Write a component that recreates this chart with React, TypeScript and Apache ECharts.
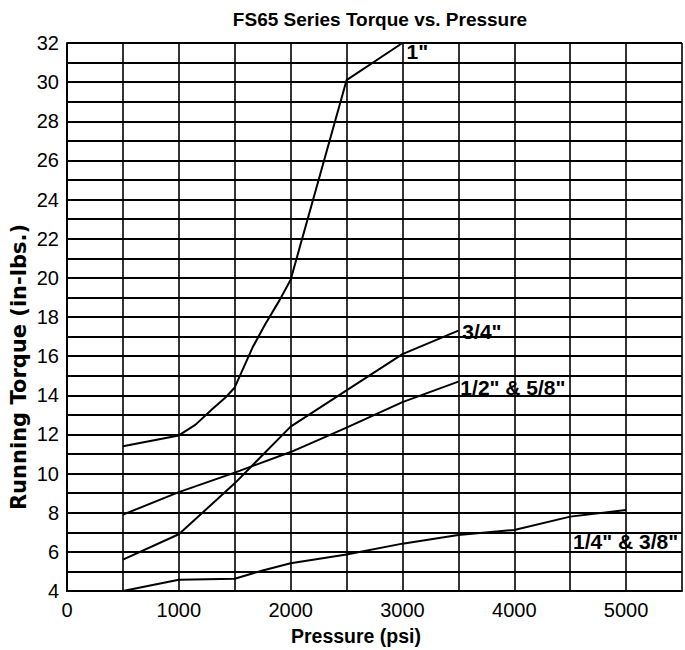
import React, { useEffect, useRef } from "react";
import * as echarts from "echarts";

const titleText = "FS65 Series Torque vs. Pressure";
const xAxisName = "Pressure (psi)";
const yAxisName = "Running Torque (in-lbs.)";

const seriesNames = ['1"', '3/4"', '1/2" & 5/8"', '1/4" & 3/8"'];

const pressure1in = [500, 1000, 1150, 1300, 1420, 1500, 1570, 1660, 1770, 1900, 2000, 2500, 3000];
const torque1in = [11.4, 11.95, 12.5, 13.3, 13.9, 14.4, 15.3, 16.45, 17.6, 18.85, 19.9, 30.1, 32];

const pressure34 = [500, 1000, 1500, 2000, 2500, 3000, 3500];
const torque34 = [5.6, 6.9, 9.5, 12.4, 14.25, 16.1, 17.3];

const pressure12 = [500, 1000, 1500, 2000, 2500, 3000, 3500];
const torque12 = [7.9, 9.05, 10.05, 11.1, 12.35, 13.65, 14.7];

const pressure14 = [500, 1000, 1500, 1750, 2000, 2500, 3000, 3500, 4000, 4500, 5000];
const torque14 = [4.0, 4.58, 4.63, 5.05, 5.42, 5.86, 6.42, 6.86, 7.12, 7.8, 8.14];

const SANS = '"Liberation Sans", Arial, sans-serif';

function zip(xs: number[], ys: number[]) {
  return xs.map((x, i) => [x, ys[i]]);
}

export default function App() {
  const ref = useRef<HTMLDivElement>(null);
  useEffect(() => {
    if (!ref.current) return;
    const chart = echarts.init(ref.current, undefined, { renderer: "svg" });
    const labelStyle = {
      fontFamily: SANS,
      fontWeight: "bold" as const,
      fontSize: 21,
      color: "#000",
    };
    const mkSeries = (name: string, xs: number[], ys: number[], offset: number[], distance: number) => ({
      type: "line",
      name,
      data: zip(xs, ys),
      showSymbol: false,
      symbol: "none",
      lineStyle: { color: "#000", width: 2 },
      endLabel: {
        show: true,
        formatter: name,
        distance,
        offset,
        ...labelStyle,
      },
      z: 5,
    });
    chart.setOption({
      animation: false,
      backgroundColor: "#fff",
      grid: { left: 67, top: 43, bottom: 59, right: -9, containLabel: false },
      xAxis: {
        type: "value",
        min: 0,
        max: 5500,
        interval: 500,
        axisLine: { show: true, lineStyle: { color: "#000", width: 2 } },
        axisTick: { show: false },
        splitLine: { show: true, lineStyle: { color: "#000", width: 1.6 } },
        axisLabel: {
          margin: 9,
          fontFamily: SANS,
          fontSize: 20,
          color: "#000",
          formatter: (v: number) => (v % 1000 === 0 && v <= 5000 ? String(v) : ""),
        },
      },
      yAxis: {
        type: "value",
        min: 4,
        max: 32,
        interval: 1,
        axisLine: { show: true, lineStyle: { color: "#000", width: 2 } },
        axisTick: { show: false },
        splitLine: { show: true, lineStyle: { color: "#000", width: 2 } },
        axisLabel: {
          margin: 8,
          fontFamily: SANS,
          fontSize: 20,
          color: "#000",
          formatter: (v: number) => (v % 2 === 0 ? String(v) : ""),
        },
      },
      graphic: [
        {
          type: "text",
          x: 380,
          y: 19,
          style: {
            text: titleText,
            fontFamily: SANS,
            fontWeight: "bold",
            fontSize: 19,
            fill: "#000",
            align: "center",
            verticalAlign: "middle",
          },
        },
        {
          type: "text",
          x: 19,
          y: 367,
          rotation: Math.PI / 2,
          style: {
            text: yAxisName,
            fontFamily: '"DejaVu Sans", sans-serif',
            fontWeight: "bold",
            fontSize: 21,
            fill: "#000",
            align: "center",
            verticalAlign: "middle",
          },
        },
        {
          type: "text",
          x: 356,
          y: 636,
          style: {
            text: xAxisName,
            fontFamily: SANS,
            fontWeight: "bold",
            fontSize: 19.5,
            fill: "#000",
            align: "center",
            verticalAlign: "middle",
          },
        },
      ],
      series: [
        mkSeries(seriesNames[0], pressure1in, torque1in, [0, 8], 4),
        mkSeries(seriesNames[1], pressure34, torque34, [0, 1], 4),
        mkSeries(seriesNames[2], pressure12, torque12, [0, 6], 2),
        mkSeries(seriesNames[3], pressure14, torque14, [-55, 32], 2),
      ],
    });
    return () => chart.dispose();
  }, []);
  return (
    <div
      ref={ref}
      style={{ position: "absolute", left: 0, top: 0, width: 685, height: 650, background: "#fff" }}
    />
  );
}
